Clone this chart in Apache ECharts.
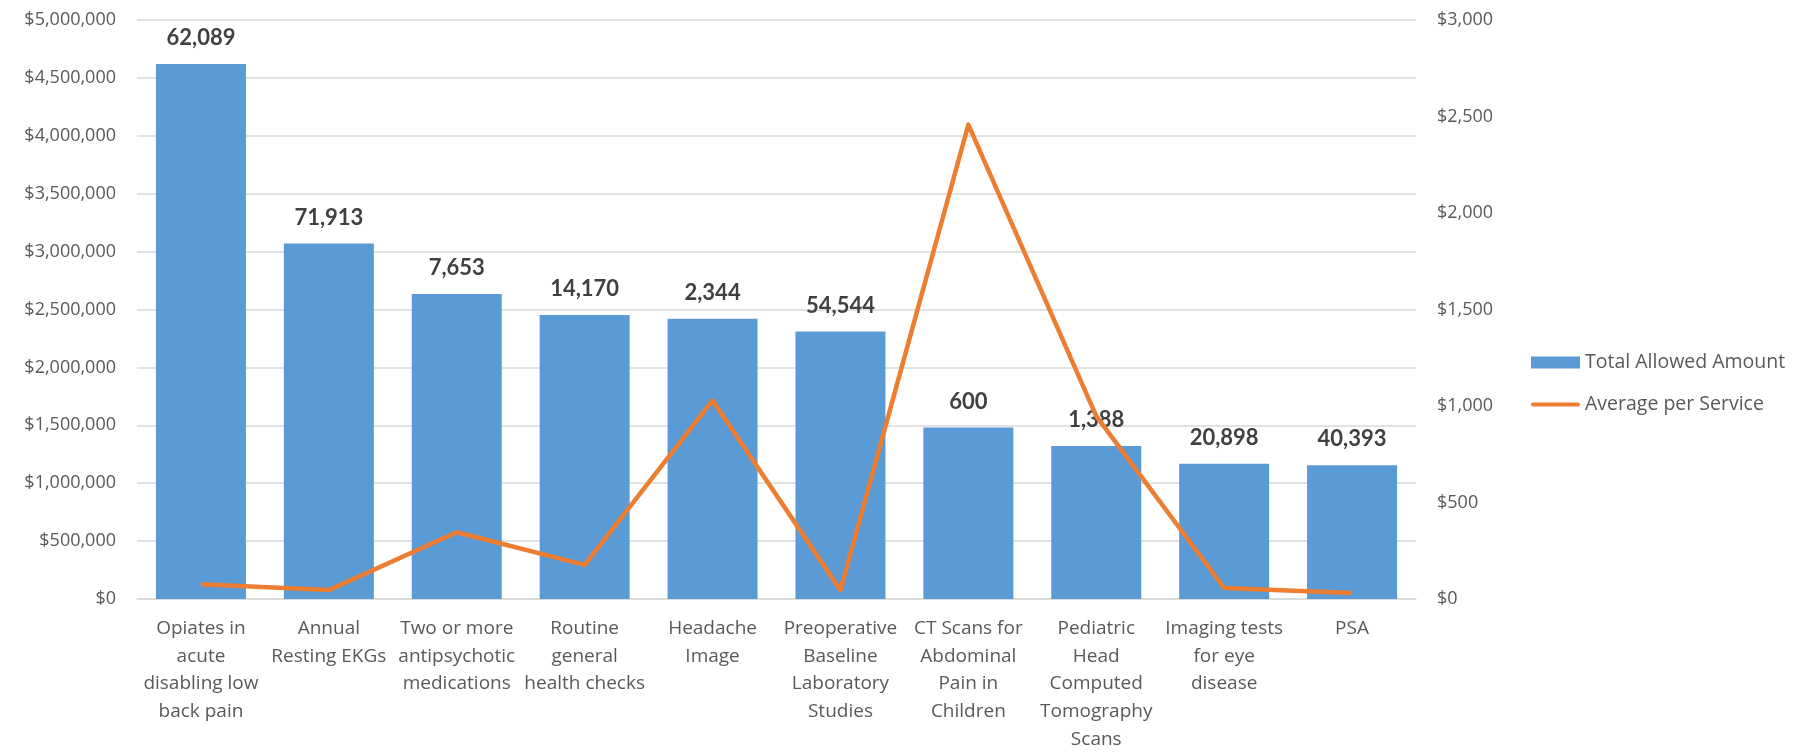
<!DOCTYPE html>
<html>
<head>
<meta charset="utf-8">
<title>Total Allowed Amount and Average per Service</title>
<script src="https://cdn.jsdelivr.net/npm/echarts@6/dist/echarts.min.js"></script>
<style>
  html, body { margin: 0; padding: 0; background: #ffffff; }
  #chart { width: 1804px; height: 753px; }
</style>
</head>
<body>
<div id="chart"></div>
<script>
// Low-value services: total allowed amount (bars, left axis),
// average per service (line, right axis), bar labels give the service count.
const categories = [
  'Opiates in\nacute\ndisabling low\nback pain',
  'Annual\nResting EKGs',
  'Two or more\nantipsychotic\nmedications',
  'Routine\ngeneral\nhealth checks',
  'Headache\nImage',
  'Preoperative\nBaseline\nLaboratory\nStudies',
  'CT Scans for\nAbdominal\nPain in\nChildren',
  'Pediatric\nHead\nComputed\nTomography\nScans',
  'Imaging tests\nfor eye\ndisease',
  'PSA'
];
const totalAllowed = [4620000, 3069000, 2634000, 2452000, 2420000, 2309000, 1481000, 1322000, 1168000, 1156000];
const serviceCounts = [62089, 71913, 7653, 14170, 2344, 54544, 600, 1388, 20898, 40393];
const averagePerService = [76, 46, 346, 177, 1029, 46, 2458, 948, 57, 31];
const seriesNames = ['Total Allowed Amount', 'Average per Service'];

const fmtMoney = v => '$' + Number(v).toLocaleString('en-US');
const axisFont = { color: '#595959', fontFamily: 'Open Sans', fontSize: 18 };

const chart = echarts.init(document.getElementById('chart'), null, { renderer: 'canvas' });
chart.setOption({
  animation: false,
  backgroundColor: '#ffffff',
  grid: { left: 137, right: 388, top: 20, bottom: 149 },
  legend: {
    orient: 'vertical',
    left: 1526,
    top: 347,
    itemWidth: 49,
    itemHeight: 12,
    itemGap: 21,
    symbolKeepAspect: true,
    textStyle: { color: '#595959', fontFamily: 'Open Sans', fontSize: 19.5, lineHeight: 21 },
    data: [
      { name: seriesNames[0], icon: 'rect' },
      // thin horizontal stroke for the line series
      { name: seriesNames[1], icon: 'path://M2,0 L47,0 A2,2 0 0 1 47,4 L2,4 A2,2 0 0 1 2,0 Z' }
    ]
  },
  xAxis: {
    type: 'category',
    data: categories,
    axisTick: { show: false },
    axisLine: { lineStyle: { color: '#D9D9D9', width: 1.5 } },
    axisLabel: {
      interval: 0,
      margin: 16,
      color: '#595959',
      fontFamily: 'Open Sans',
      fontSize: 19,
      lineHeight: 27.6,
      align: 'center'
    }
  },
  yAxis: [
    {
      type: 'value',
      min: 0,
      max: 5000000,
      interval: 500000,
      axisLine: { show: false },
      axisTick: { show: false },
      splitLine: { lineStyle: { color: '#D9D9D9', width: 1.5 } },
      axisLabel: Object.assign({ margin: 21, formatter: fmtMoney }, axisFont)
    },
    {
      type: 'value',
      min: 0,
      max: 3000,
      interval: 500,
      position: 'right',
      axisLine: { show: false },
      axisTick: { show: false },
      splitLine: { show: false },
      axisLabel: Object.assign({ margin: 21, formatter: fmtMoney }, axisFont)
    }
  ],
  series: [
    {
      name: seriesNames[0],
      type: 'bar',
      yAxisIndex: 0,
      data: totalAllowed,
      barWidth: 90,
      itemStyle: { color: '#5B9BD5' },
      label: {
        show: true,
        position: 'top',
        distance: 15,
        color: '#404040',
        fontFamily: 'Lato',
        fontWeight: 'bold',
        fontSize: 22,
        formatter: p => serviceCounts[p.dataIndex].toLocaleString('en-US')
      },
      z: 2
    },
    {
      name: seriesNames[1],
      type: 'line',
      yAxisIndex: 1,
      data: averagePerService,
      symbol: 'none',
      lineStyle: { color: '#ED7D31', width: 4.5, join: 'round' },
      itemStyle: { color: '#ED7D31' },
      z: 3
    }
  ]
});
</script>
</body>
</html>
